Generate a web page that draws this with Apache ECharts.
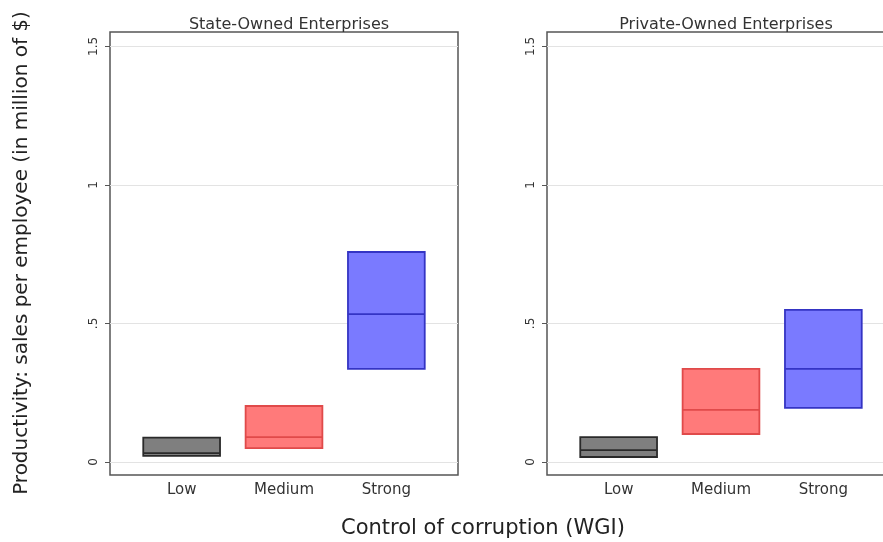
<!DOCTYPE html>
<html>
<head>
<meta charset="utf-8">
<script src="https://cdn.jsdelivr.net/npm/echarts@6/dist/echarts.min.js"></script>
<style>html,body{margin:0;padding:0;background:#fff}#c{width:883px;height:542px}</style>
</head>
<body>
<div id="c"></div>
<script>
var categories = ['Low', 'Medium', 'Strong'];
var panelTitles = ['State-Owned Enterprises', 'Private-Owned Enterprises'];
var yTickValues = [0, 0.5, 1, 1.5];
var yTickLabels = ['0', '.5', '1', '1.5'];
// [low, median, high] per category
var soeLow = [0.022, 0.032, 0.088];
var soeMedium = [0.05, 0.09, 0.202];
var soeStrong = [0.336, 0.534, 0.758];
var poeLow = [0.018, 0.043, 0.09];
var poeMedium = [0.101, 0.188, 0.336];
var poeStrong = [0.195, 0.336, 0.549];

var fills = ['#7f7f7f', '#ff7a7a', '#7a7aff'];
var strokes = ['#2a2a2a', '#e04a4a', '#3434c4'];
var FONT = 'DejaVu Sans, Liberation Sans, sans-serif';

function toData(arrs) {
  return arrs.map(function (a, i) { return [i + 1, a[0], a[1], a[2]]; });
}

function renderBox(params, api) {
  var x = api.value(0);
  var lo = api.coord([x - 0.375, api.value(1)]);
  var hi = api.coord([x + 0.375, api.value(3)]);
  var med = api.coord([x, api.value(2)]);
  var idx = params.dataIndex;
  return {
    type: 'group',
    children: [
      {
        type: 'rect',
        shape: { x: lo[0], y: hi[1], width: hi[0] - lo[0], height: lo[1] - hi[1] },
        style: { fill: fills[idx], stroke: strokes[idx], lineWidth: 1.8 }
      },
      {
        type: 'line',
        shape: { x1: lo[0], y1: med[1], x2: hi[0], y2: med[1] },
        style: { stroke: strokes[idx], lineWidth: 1.8 }
      }
    ]
  };
}

function xAxisCfg(gi) {
  return {
    type: 'value', gridIndex: gi, min: 0.3, max: 3.7,
    axisLine: { show: false },
    axisTick: { show: false },
    splitLine: { show: false },
    axisLabel: {
      customValues: [1, 2, 3],
      formatter: function (v) { return categories[Math.round(v) - 1]; },
      color: '#333', fontFamily: FONT, fontSize: 15, margin: 8
    }
  };
}
function yAxisCfg(gi) {
  return {
    type: 'value', gridIndex: gi, min: -0.047, max: 1.552,
    axisLine: { show: false },
    axisTick: { show: true, customValues: yTickValues, length: 5, lineStyle: { color: '#555' } },
    splitLine: { show: true, lineStyle: { color: '#e3e3e3', width: 1 } },
    axisLabel: {
      customValues: yTickValues,
      formatter: function (v) {
        for (var i = 0; i < yTickValues.length; i++) if (Math.abs(yTickValues[i] - v) < 1e-6) return yTickLabels[i];
        return '';
      },
      rotate: 90, color: '#333', fontFamily: FONT, fontSize: 12, margin: 10
    }
  };
}

var chart = echarts.init(document.getElementById('c'), null, { renderer: 'canvas' });
chart.setOption({
  backgroundColor: '#fff',
  animation: false,
  title: [
    { text: panelTitles[0], left: 284, top: 12, textAlign: 'center',
      textStyle: { fontFamily: FONT, fontSize: 16, fontWeight: 'normal', color: '#333' } },
    { text: panelTitles[1], left: 721, top: 12, textAlign: 'center',
      textStyle: { fontFamily: FONT, fontSize: 16, fontWeight: 'normal', color: '#333' } }
  ],
  grid: [
    { left: 110, top: 32, width: 348, height: 443, outerBoundsMode: 'none', show: true, borderColor: '#555', borderWidth: 1.5, backgroundColor: 'transparent' },
    { left: 547, top: 32, width: 348, height: 443, outerBoundsMode: 'none', show: true, borderColor: '#555', borderWidth: 1.5, backgroundColor: 'transparent' }
  ],
  xAxis: [xAxisCfg(0), xAxisCfg(1)],
  yAxis: [yAxisCfg(0), yAxisCfg(1)],
  graphic: [
    { type: 'text', x: 22, y: 253, rotation: Math.PI / 2, originX: 0, originY: 0,
      style: { text: 'Productivity: sales per employee (in million of $)', fontFamily: FONT, fontSize: 20, fill: '#222', textAlign: 'center', textVerticalAlign: 'middle' } },
    { type: 'text', x: 483, y: 529,
      style: { text: 'Control of corruption (WGI)', fontFamily: FONT, fontSize: 21, fill: '#222', textAlign: 'center', textVerticalAlign: 'middle' } }
  ],
  series: [
    { type: 'custom', xAxisIndex: 0, yAxisIndex: 0, renderItem: renderBox, data: toData([soeLow, soeMedium, soeStrong]) },
    { type: 'custom', xAxisIndex: 1, yAxisIndex: 1, renderItem: renderBox, data: toData([poeLow, poeMedium, poeStrong]) }
  ]
});
</script>
</body>
</html>
